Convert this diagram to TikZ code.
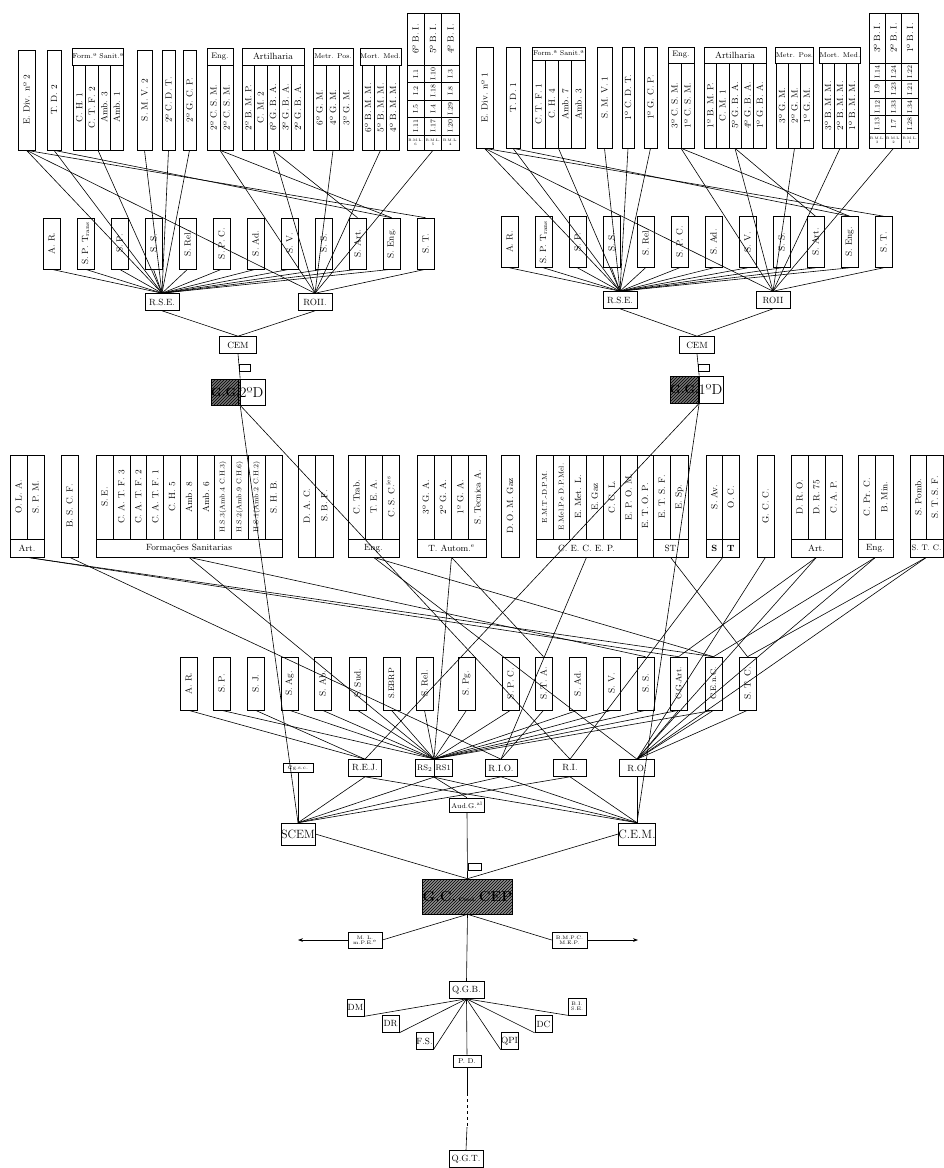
\documentclass[tikz,border=0pt]{standalone}
\usetikzlibrary{fit,arrows.meta,patterns}

\newcommand{\rt}[1]{\rotatebox{90}{#1}}
% columns of one unit: name, left x, right x, top y, bottom y, labels
\newcommand{\unitcols}[6]{%
  \foreach \lab [count=\n] in {#6}{\xdef\ncols{\n}}%
  \pgfmathsetmacro\colw{(#3-#2)/\ncols}%
  \pgfmathsetmacro\colh{#5-#4}%
  \pgfmathsetmacro\colm{(#4+#5)/2}%
  \foreach \lab [count=\i] in {#6}{%
    \node[box, minimum width=\colw pt, minimum height=\colh pt]
      (#1-\i) at ({#2+(\i-0.5)*\colw},\colm) {\rt{\lab}};
  }%
  \node[frame, fit={(#2,#4) (#3,#5)}] (#1) {};
}
% header or footer of a unit
\newcommand{\unitlabel}[6]{%
  \pgfmathsetmacro\lw{#3-#2}%
  \pgfmathsetmacro\lh{#5-#4}%
  \node[box, minimum width=\lw pt, minimum height=\lh pt] (#1)
    at ({(#2+#3)/2},{(#4+#5)/2}) {#6};
}
% infantry block: name, x0, x1, top, split, bottom, battalions, cells, B.M.L.
\newcommand{\biblock}[9]{%
  \unitcols{#1t}{#2}{#3}{#4}{#5}{#7}
  \pgfmathsetmacro\cw{(#3-#2)/3}%
  \pgfmathsetmacro\rh{(#6-15-#5)/4}%
  \foreach \lab [count=\i from 0] in {#8}{%
    \pgfmathtruncatemacro\cc{\i/4}%
    \pgfmathtruncatemacro\rr{mod(\i,4)}%
    \node[box, font=\scriptsize, minimum width=\cw pt, minimum height=\rh pt]
      (#1-c\i) at ({#2+(\cc+0.5)*\cw},{#5+(\rr+0.5)*\rh}) {\rt{\lab}};
  }%
  \foreach \lab [count=\i from 0] in {#9}{%
    \node[box, font=\fontsize{3.5}{3.5}\selectfont, align=center,
      minimum width=\cw pt, minimum height=15pt]
      (#1-m\i) at ({#2+(\i+0.5)*\cw},{#6-7.5}) {\lab};
  }%
  \node[frame, fit={(#2,#4) (#3,#6)}] (#1) {};
}

\begin{document}
\begin{tikzpicture}[x=1pt, y=-1pt, font=\small, line width=0.6pt,
    box/.style={draw, inner sep=0pt},
    frame/.style={inner sep=0pt},
    svc/.style={draw, inner sep=0pt, minimum width=17pt, minimum height=51pt},
    svcb/.style={draw, inner sep=0pt, minimum width=17pt, minimum height=53pt},
    hub/.style={draw, inner sep=1pt, minimum height=17pt},
    dark/.style={draw, fill=black!55, postaction={pattern=north east lines},
      inner sep=0pt, font=\large\bfseries},
  ]
  \useasboundingbox (0,0) rectangle (944,1168);

  % Second division: units
  \unitcols{ediv2}{18}{35}{50}{150}{E. Div. nº 2}
  \unitcols{td2}{47}{61}{50}{150}{T. D. 2}
  \unitlabel{fs2h}{73}{123}{48}{65}{\scriptsize Form.ª Sanit.ª}
  \unitcols{fs2}{73}{123}{65}{150}{C. H. 1, C. T. F. 2, Amb. 3, Amb. 1}
  \unitcols{smv2}{137}{152}{50}{150}{S. M. V. 2}
  \unitcols{cdt2}{162}{175}{50}{150}{2º C. D. T.}
  \unitcols{gcp2}{183}{196}{50}{150}{2º G. C. P.}
  \unitlabel{eng2h}{207}{233}{48}{65}{\footnotesize Eng.}
  \unitcols{eng2}{207}{233}{65}{150}{2º C. S. M., 2º C. S. M.}
  \unitlabel{art2h}{242}{304}{48}{65}{Artilharia}
  \unitcols{art2}{242}{304}{65}{150}{2º B. M. P., C. M. 2, 6º G. B. A., 3º G. B. A., 2º G. B. A.}
  \unitlabel{mp2h}{313}{353}{48}{65}{\scriptsize Metr. Pos.}
  \unitcols{mp2}{313}{353}{65}{150}{6º G. M., 4º G. M., 3º G. M.}
  \unitlabel{mm2h}{362}{399}{48}{65}{\scriptsize Mort. Med.}
  \unitcols{mm2}{362}{399}{65}{150}{6º B. M. M., 5º B. M. M., 4º B. M. M.}
  \biblock{bi2}{407}{459}{13}{65}{150}{6º B. I., 5º B. I., 4º B. I.}%
    {I.1, I.2, I.5, I.11, I.10, I.18, I.4, I.17, I.3, I.8, I.29, I.20}%
    {B.M.L.\\6, B.M.L.\\5, B.M.L.\\4}

  % Second division: services and staff
  \foreach \lab [count=\i] in {A. R., S. P. T\textsubscript{rans}, S. P., S. S., S. Rel., S. P. C.,
      S. Ad., S. V., S. S., S. Art., S. Eng., S. T.}
    \node[svc] (s2-\i) at ({51.5+34*(\i-1)},243.5) {\rt{\lab}};
  \node[hub, minimum width=34pt] (rse2) at (162,302) {R.S.E.};
  \node[hub, minimum width=34pt] (roii2) at (315,302) {ROII.};
  \node[hub, minimum width=37pt] (cem2) at (238,345) {CEM};
  \node[box, minimum width=11pt, minimum height=7pt] (tag2) at (244.5,367.5) {};
  \node[dark, minimum width=25pt, minimum height=26pt] (gg2) at (225.5,392) {G.G.};
  \node[box, minimum width=27pt, minimum height=26pt, font=\Large] (dv2) at (251.5,392) {2ºD};

  \foreach \u in {ediv2,td2,fs2,smv2,cdt2,gcp2}
    \draw (\u.south) -- (rse2.north);
  \foreach \u in {ediv2,eng2,art2,mp2,mm2,bi2}
    \draw (\u.south) -- (roii2.north);
  \draw (ediv2.south) -- (s2-12.north);
  \draw (td2.south) -- (s2-11.north);
  \draw (eng2.south) -- (s2-11.north);
  \draw (art2.south) -- (s2-10.north);
  \foreach \i in {1,...,11}
    \draw (s2-\i.south) -- (rse2.north);
  \draw (s2-12.south) -- (roii2.north);
  \draw (rse2.south) -- (cem2.north);
  \draw (roii2.south) -- (cem2.north);
  \draw (cem2.south) -- (gg2.north east);

  % First division: units
  \unitcols{ediv1}{476}{493}{47}{148}{E. Div. nº 1}
  \unitcols{td1}{506}{520}{47}{148}{T. D. 1}
  \unitlabel{fs1h}{532}{585}{47}{60}{\scriptsize Form.ª Sanit.ª}
  \unitcols{fs1}{532}{585}{60}{148}{C. T. F. 1, C. H. 4, Amb. 7, Amb. 3}
  \unitcols{smv1}{597}{612}{47}{148}{S. M. V. 1}
  \unitcols{cdt1}{622}{634}{47}{148}{1º C. D. T.}
  \unitcols{gcp1}{644}{657}{47}{148}{1º G. C. P.}
  \unitlabel{eng1h}{668}{694}{47}{63}{\footnotesize Eng.}
  \unitcols{eng1}{668}{694}{63}{148}{3º C. S. M., 1º C. S. M.}
  \unitlabel{art1h}{704}{766}{47}{63}{Artilharia}
  \unitcols{art1}{704}{766}{63}{148}{1º B. M. P., C. M. 1, 5º G. B. A., 4º G. B. A., 1º G. B. A.}
  \unitlabel{mp1h}{776}{813}{47}{63}{\scriptsize Metr. Pos.}
  \unitcols{mp1}{776}{813}{63}{148}{3º G. M., 2º G. M., 1º G. M.}
  \unitlabel{mm1h}{822}{858}{47}{63}{\scriptsize Mort. Med.}
  \unitcols{mm1}{822}{858}{63}{148}{3º B. M. M., 2º B. M. M., 1º B. M. M.}
  \biblock{bi1}{869}{918}{13}{63}{148}{3º B. I., 2º B. I., 1º B. I.}%
    {I.14, I.9, I.12, I.13, I.24, I.23, I.33, I.7, I.22, I.21, I.34, I.28}%
    {B.M.L.\\3, B.M.L.\\2, B.M.L.\\1}

  % First division: services and staff
  \foreach \lab [count=\i] in {A. R., S. P. T\textsubscript{rans}, S. P., S. S., S. Rel., S. P. C.,
      S. Ad., S. V., S. S., S. Art., S. Eng., S. T.}
    \node[svc] (s1-\i) at ({509.5+34*(\i-1)},242) {\rt{\lab}};
  \node[hub, minimum width=34pt] (rse1) at (620,300) {R.S.E.};
  \node[hub, minimum width=34pt] (roii1) at (773,300) {ROII};
  \node[hub, minimum width=35pt] (cem1) at (697,345) {CEM};
  \node[box, minimum width=11pt, minimum height=7pt] (tag1) at (703.5,367.5) {};
  \node[dark, minimum width=27pt, minimum height=27pt] (gg1) at (684.5,389.5) {G.G.};
  \node[box, minimum width=25pt, minimum height=27pt, font=\Large] (dv1) at (710.5,389.5) {1ºD};

  \foreach \u in {ediv1,td1,fs1,smv1,cdt1,gcp1}
    \draw (\u.south) -- (rse1.north);
  \foreach \u in {ediv1,eng1,art1,mp1,mm1,bi1}
    \draw (\u.south) -- (roii1.north);
  \draw (ediv1.south) -- (s1-12.north);
  \draw (td1.south) -- (s1-11.north);
  \draw (eng1.south) -- (s1-11.north);
  \draw (art1.south) -- (s1-10.north);
  \foreach \i in {1,...,11}
    \draw (s1-\i.south) -- (rse1.north);
  \draw (s1-12.south) -- (roii1.north);
  \draw (rse1.south) -- (cem1.north);
  \draw (roii1.south) -- (cem1.north);
  \draw (cem1.south) -- (gg1.north east);

  % Army corps troops
  \unitcols{artL}{10}{44}{455}{539}{O. L. A., S. P. M.}
  \unitlabel{artL-f}{10}{44}{539}{557}{Art.}
  \unitcols{bscf}{61}{78}{455}{557}{B. S. C. F.}
  \unitcols{fsan}{96}{282}{455}{539}{S. E., C. A. T. F. 3, C. A. T. F. 2, C. A. T. F. 1, C. H. 5,
    Amb. 8, Amb. 6, {\scriptsize H.S.3(Amb.4 C.H.3)}, {\scriptsize H.S.2(Amb.9 C.H.6)},
    {\scriptsize H.S.1(Amb.2 C.H.2)}, S. H. B.}
  \unitlabel{fsan-f}{96}{282}{539}{557}{Formações Sanitarias}
  \unitcols{dac}{298}{333}{455}{557}{D. A. C., S. B. F.}
  \unitcols{engL}{348}{399}{455}{539}{C. Trab., T. E. A., C. S. C.\textsuperscript{ies}}
  \unitlabel{engL-f}{348}{399}{539}{557}{Eng.}
  \unitcols{taut}{417}{486}{455}{539}{3º G. A., 2º G. A., 1º G. A., S. Tecnica A.}
  \unitlabel{taut-f}{417}{486}{539}{557}{T. Autom.\textsuperscript{e}}
  \unitcols{dom}{501}{519}{455}{557}{D. O. M. Gaz}
  \unitcols{cecep}{536}{637}{455}{539}{{\scriptsize E.M.T.-D.P.M.}, {\scriptsize E.Mel.P.e D.P.Mel.},
    E. Met. L., E. Gaz, C. C. L., E. P. O. M.}
  \unitlabel{cecep-f}{536}{637}{539}{557}{C. E. C. E. P.}
  \unitcols{etop}{637}{653}{455}{557}{E. T. O. P.}
  \unitcols{st}{653}{688}{455}{539}{E. T. S. F., E. Sp.}
  \unitlabel{st-f}{653}{688}{539}{557}{ST}
  \unitcols{savoc}{706}{739}{455}{539}{S. Av., O. C.}
  \unitlabel{savoc-f1}{706}{722.5}{539}{557}{\textbf{S}}
  \unitlabel{savoc-f2}{722.5}{739}{539}{557}{\textbf{T}}
  \node[frame, fit=(savoc)(savoc-f1)(savoc-f2)] (savocg) {};
  \unitcols{gcc}{757}{774}{455}{557}{G. C. C.}
  \unitcols{artR}{791}{842}{455}{539}{D. R. O., D. R. 75, C. A. P.}
  \unitlabel{artR-f}{791}{842}{539}{557}{Art.}
  \unitcols{engR}{858}{893}{455}{539}{C. Pr. C., B. Min.}
  \unitlabel{engR-f}{858}{893}{539}{557}{Eng.}
  \unitcols{stc}{910}{943}{455}{539}{S. Pomb., S. T. S. F.}
  \unitlabel{stc-f}{910}{943}{539}{557}{\footnotesize S. T. C.}

  % Services of the corps
  \foreach \lab/\x [count=\i] in {A. R./180, S. P./213, S. J./247, S. Ag./281, S. Ab./314,
      S. Sud./349, {\footnotesize S.EBRP}/383, S. Rel./416, S. Pg./458, S. P. C./502, S. T. A./535,
      S. Ad./569, S. V./603, S. S./637, {\footnotesize C.G.Art.}/670, {\footnotesize C.E.n.C.}/705, S. T. C./739}
    \node[svcb] (r4-\i) at ({\x+8.5},683.5) {\rt{\lab}};

  % Repartições
  \node[box, minimum width=30pt, minimum height=9pt, font=\tiny] (cgsc) at (298,768) {Cg.s.c.};
  \node[hub, minimum width=33pt] (rej) at (365,768) {R.E.J.};
  \node[hub, minimum width=18.5pt, inner sep=0pt, font=\footnotesize] (rsa) at (424.75,768) {RS\textsubscript{2}};
  \node[hub, minimum width=18.5pt, inner sep=0pt, font=\footnotesize] (rsb) at (443.25,768) {RS1};
  \node[frame, fit=(rsa)(rsb)] (rs) {};
  \node[hub, minimum width=32pt] (rio) at (501,768) {R.I.O.};
  \node[hub, minimum width=33pt] (ri) at (570,768) {R.I.};
  \node[hub, minimum width=35pt] (ro) at (637,768) {R.O.};
  \node[box, minimum width=35pt, minimum height=14pt, font=\scriptsize] (aud) at (467,805) {Aud.G.\textsuperscript{al}};
  \node[box, minimum width=34pt, minimum height=22pt, font=\large] (scem) at (298,834) {SCEM};
  \node[box, minimum width=33pt, minimum height=22pt, font=\large] (cemc) at (637,834) {C.E.M.};
  \node[box, minimum width=13pt, minimum height=7pt] (tagc) at (474.5,866.5) {};
  \node[dark, fill=black!45, minimum width=69pt, minimum height=35pt, font=\Large\bfseries] (gccep) at (467.5,896.5)
    {G.C.\,{\tiny Cmd.}\,CEP};

  % Row 3 to row 4 and 5
  \draw (artL-f.south) -- (r4-15.north);
  \draw (artL-f.south) -- (r4-16.north);
  \draw (bscf.south) -- (rio.north);
  \draw (fsan-f.south) -- (r4-14.north);
  \draw (fsan-f.south) -- (rs.north);
  \draw (engL-f.south) -- (r4-16.north);
  \draw (engL-f.south) -- (ro.north);
  \draw (taut-f.south) -- (r4-11.north);
  \draw (taut-f.south) -- (rs.north);
  \draw (cecep-f.south) -- (rio.north);
  \draw (st-f.south) -- (r4-17.north);
  \draw (savocg.south) -- (ri.north);
  \draw (gcc.south) -- (ro.north);
  \foreach \g/\s in {artR-f/15, engR-f/16, stc-f/17} {
    \draw (\g.south) -- (r4-\s.north);
    \draw (\g.south) -- (ro.north);
  }

  % Divisions to the corps
  \draw (gg2.south east) -- (scem.north);
  \draw (gg2.south east) -- (ri.north);
  \draw (gg1.south east) -- (cemc.north);
  \draw (gg1.south east) -- (rej.north);

  % Row 4 to repartições
  \foreach \i in {1,3}
    \draw (r4-\i.south) -- (rej.north);
  \foreach \i in {2,4,5,6,7,8,9,10,12,13,14,15,16}
    \draw (r4-\i.south) -- (rs.north);
  \draw (r4-11.south) -- (rio.north);
  \foreach \i in {15,16,17}
    \draw (r4-\i.south) -- (ro.north);

  % Repartições to the staff
  \draw (cgsc.south) -- (scem.north);
  \foreach \r in {rej,rs,rio,ri} {
    \draw (\r.south) -- (scem.north);
    \draw (\r.south) -- (cemc.north);
  }
  \draw (ro.south) -- (cemc.north);
  \draw (rs.south) -- (aud.north);
  \draw (aud.south) -- (gccep.north);
  \draw (scem.east) -- (gccep.north);
  \draw (cemc.west) -- (gccep.north);

  % Below the command
  \node[box, minimum width=34pt, minimum height=16pt, align=center, font=\fontsize{5}{5}\selectfont] (ml) at (365,940) {M. L.\\m.P.E.\textsuperscript{e}};
  \node[box, minimum width=35pt, minimum height=16pt, align=center, font=\fontsize{5}{5}\selectfont] (bmpc) at (569.5,940) {B.M.P.C.\\M.E.P.};
  \coordinate (mlend) at (298,940);
  \coordinate (bmend) at (638,940);
  \draw (gccep.south) -- (ml.east);
  \draw (gccep.south) -- (bmpc.west);
  \draw[-{Stealth[length=5pt]}] (ml.west) -- (mlend);
  \draw[-{Stealth[length=5pt]}] (bmpc.east) -- (bmend);

  \node[hub, minimum width=35pt] (qgb) at (466.5,990) {Q.G.B.};
  \draw (gccep.south) -- (qgb.north);
  \node[box, minimum width=17pt, minimum height=17pt] (dm) at (355.5,1007.5) {DM};
  \node[box, minimum width=17pt, minimum height=17pt] (dr) at (390.5,1024) {DR};
  \node[box, minimum width=17pt, minimum height=17pt] (fsq) at (424.5,1041) {F.S.};
  \node[box, minimum width=17pt, minimum height=17pt] (qpi) at (509.5,1041) {QPI};
  \node[box, minimum width=17pt, minimum height=17pt] (dc) at (543.5,1024) {DC};
  \node[box, minimum width=18pt, minimum height=17pt, align=center, font=\fontsize{5}{5}\selectfont] (bise) at (577,1006.5) {B.I.\\S.E.};
  \foreach \b in {dm,dr,fsq}
    \draw (qgb.south) -- (\b.south east);
  \foreach \b in {qpi,dc,bise}
    \draw (qgb.south) -- (\b.south west);
  \node[box, minimum width=28pt, minimum height=12pt, font=\scriptsize] (pd) at (467,1061) {P. D.};
  \draw (qgb.south) -- (pd.north);
  \node[hub, minimum width=34pt] (qgt) at (466,1159) {Q.G.T.};
  \coordinate (qd1) at (467,1093);
  \coordinate (qd2) at (467,1127);
  \draw (pd.south) -- (qd1);
  \draw[dashed] (qd1) -- (qd2);
  \draw (qd2) -- (qgt.north);
\end{tikzpicture}
\end{document}
